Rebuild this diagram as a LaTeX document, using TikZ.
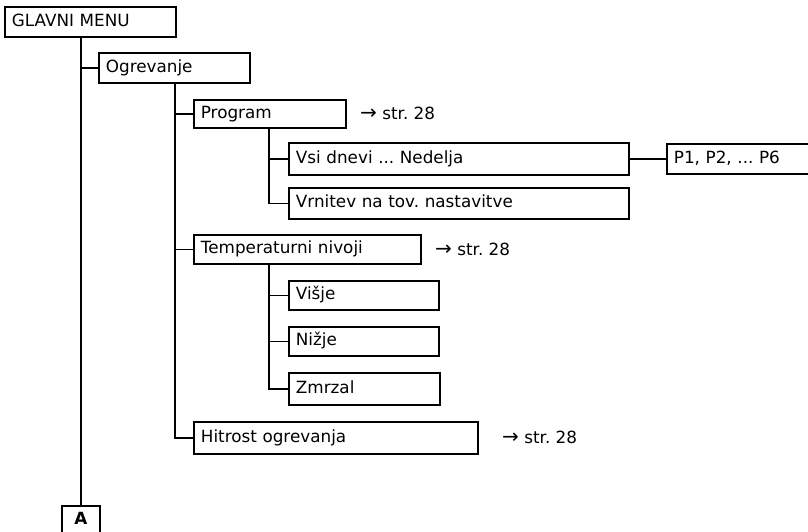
\documentclass[tikz,border=0pt]{standalone}
\usepackage{fontspec}
\setmainfont{DejaVu Sans}
\begin{document}
\frenchspacing
\begin{tikzpicture}[x=1pt,y=-1pt,
  box/.style={draw, line width=1.8pt, anchor=north west, inner xsep=7pt, inner ysep=0pt,
    align=left, text height=12pt, text depth=3.5pt, font=\fontsize{16.8}{19}\selectfont},
  link/.style={line width=1.8pt},
  ref/.style={anchor=west, inner sep=0pt, font=\fontsize{16.8}{19}\selectfont}]
\useasboundingbox (0,0) rectangle (808,531);
\node[box, text width=157pt, minimum height=30pt] (glavni) at (4,6) {GLAVNI MENU};
\node[box, text width=137pt, minimum height=30pt] (ogr) at (98,52) {Ogrevanje};
\node[box, text width=138pt, minimum height=28pt] (prog) at (193,99) {Program};
\node[box, text width=326pt, minimum height=32pt] (vsi) at (288,142) {Vsi dnevi ... Nedelja};
\node[box, text width=326pt, minimum height=31pt] (vrn) at (288,187) {Vrnitev na tov. nastavitve};
\node[box, text width=132pt, minimum height=30pt] (p1) at (666,143) {P1, P2, ... P6};
\node[box, text width=213pt, minimum height=29pt] (temp) at (193,234) {Temperaturni nivoji};
\node[box, text width=136pt, minimum height=29pt] (vis) at (288,280) {Višje};
\node[box, text width=136pt, minimum height=29pt] (niz) at (288,326) {Nižje};
\node[box, text width=137pt, minimum height=32pt] (zmr) at (288,372) {Zmrzal};
\node[box, text width=270pt, minimum height=32pt] (hit) at (193,421) {Hitrost ogrevanja};
\node[box, align=center, inner xsep=0pt, text width=38pt, minimum height=28pt, font=\fontsize{16.8}{19}\selectfont\bfseries] (A) at (61,505) {A};
\node[ref] (r1) at (360,113) {{\fontsize{20}{19}\selectfont →} str. 28};
\node[ref] (r2) at (435,249) {{\fontsize{20}{19}\selectfont →} str. 28};
\node[ref] (r3) at (502,437) {{\fontsize{20}{19}\selectfont →} str. 28};
\coordinate (t2) at (175,0);
\coordinate (t3) at (269,0);
\draw[link] (A.north) -- (A.north |- glavni.south);
\draw[link] (A.north |- ogr.west) -- (ogr.west);
\draw[link] (t2 |- ogr.south) |- (hit.west);
\draw[link] (t2 |- prog.west) -- (prog.west);
\draw[link] (t2 |- temp.west) -- (temp.west);
\draw[link] (t3 |- prog.south) |- (vrn.west);
\draw[link] (t3 |- vsi.west) -- (vsi.west);
\draw[link] (vsi.east) -- (p1.west);
\draw[link] (t3 |- temp.south) |- (zmr.west);
\draw[link] (t3 |- vis.west) -- (vis.west);
\draw[link] (t3 |- niz.west) -- (niz.west);
\end{tikzpicture}
\end{document}
